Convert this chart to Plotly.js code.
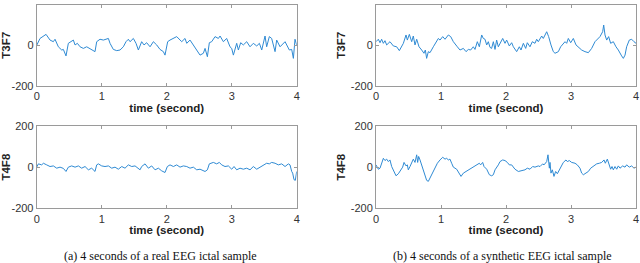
<!DOCTYPE html>
<html>
<head>
<meta charset="utf-8">
<script src="https://cdn.plot.ly/plotly-3.0.1.min.js"></script>
<style>html,body{margin:0;padding:0;background:#fff;}#chart{width:640px;height:263px;}</style>
</head>
<body>
<div id="chart"></div>
<script>
// ---- Data ----
const realT3F7_t = [0,0.051,0.144,0.205,0.256,0.282,0.333,0.385,0.410,0.451,0.487,0.538,0.564,0.590,0.626,0.667,0.718,0.769,0.846,0.897,0.923,0.974,1.026,1.103,1.128,1.179,1.231,1.282,1.333,1.374,1.410,1.436,1.487,1.528,1.564,1.615,1.651,1.692,1.744,1.795,1.846,1.897,1.949,1.974,2.015,2.051,2.154,2.205,2.231,2.282,2.308,2.359,2.410,2.462,2.513,2.564,2.590,2.626,2.656,2.692,2.744,2.795,2.821,2.872,2.923,2.974,3.000,3.026,3.077,3.103,3.138,3.179,3.231,3.282,3.333,3.385,3.426,3.462,3.513,3.538,3.579,3.615,3.667,3.692,3.744,3.821,3.846,3.887,3.923,3.949,3.974,4.000];
const realT3F7_v = [0,34,54,26,18,30,-7,-23,-20,-52,10,18,26,2,10,-7,-15,-7,-20,-31,18,30,26,34,10,-20,-26,-23,-7,18,30,18,34,10,-23,18,2,13,-7,18,2,-20,-31,-48,18,26,43,26,18,34,10,26,2,-23,-48,-39,-15,-56,13,18,43,34,46,18,34,-7,-15,-48,10,-23,13,2,18,-7,10,-3,10,-23,46,-7,43,34,-31,26,-7,18,2,-23,-20,-64,30,2];

const synT3F7_t = [0,0.036,0.062,0.087,0.113,0.138,0.164,0.215,0.267,0.318,0.359,0.395,0.421,0.462,0.482,0.513,0.549,0.574,0.600,0.626,0.662,0.703,0.738,0.759,0.779,0.805,0.831,0.882,0.923,0.959,0.985,1.026,1.062,1.113,1.149,1.190,1.251,1.292,1.344,1.385,1.421,1.456,1.497,1.523,1.559,1.590,1.626,1.651,1.677,1.703,1.728,1.754,1.779,1.805,1.831,1.856,1.882,1.918,1.949,1.985,2.010,2.051,2.087,2.113,2.154,2.164,2.205,2.231,2.267,2.303,2.328,2.369,2.405,2.446,2.472,2.497,2.549,2.574,2.626,2.656,2.692,2.728,2.754,2.805,2.841,2.908,2.933,2.959,2.995,3.036,3.077,3.113,3.164,3.215,3.267,3.318,3.369,3.446,3.487,3.503,3.523,3.549,3.579,3.610,3.651,3.692,3.728,3.779,3.805,3.831,3.856,3.897,3.933,3.969,4.000];
const synT3F7_v = [18,30,13,30,10,23,2,18,-3,-7,-26,-7,10,51,26,54,18,46,2,30,-7,-23,-39,-23,-64,-31,-36,-7,18,34,26,43,30,51,43,18,-7,-23,-15,-31,-20,-23,-7,-20,18,-7,51,34,30,2,18,-10,-15,18,-20,26,-7,18,34,10,26,-3,13,-7,-23,-31,-7,-23,10,-15,13,-7,18,10,30,18,46,34,67,43,2,-31,-39,-31,-7,18,10,34,13,34,2,-7,-23,-31,-36,-15,18,43,67,100,51,26,43,10,18,-7,-23,-52,-64,-48,-7,26,30,18,10];

const realT4F8_t = [0,0.026,0.077,0.103,0.154,0.205,0.256,0.308,0.359,0.410,0.451,0.487,0.538,0.590,0.641,0.692,0.744,0.795,0.846,0.897,0.923,0.949,1.000,1.051,1.103,1.154,1.205,1.256,1.308,1.359,1.410,1.462,1.513,1.564,1.590,1.615,1.667,1.718,1.769,1.821,1.872,1.923,1.974,2.010,2.051,2.103,2.154,2.205,2.256,2.308,2.359,2.410,2.462,2.513,2.590,2.626,2.656,2.718,2.769,2.810,2.846,2.897,2.949,3.000,3.036,3.077,3.128,3.179,3.231,3.282,3.333,3.385,3.436,3.487,3.538,3.579,3.615,3.667,3.718,3.769,3.821,3.872,3.897,3.923,3.938,3.959,3.979,4.000];
const realT4F8_v = [0,16,11,19,11,3,6,-5,0,-6,-21,0,6,0,6,-5,3,-13,-5,-21,11,16,6,3,6,-5,0,-10,3,-5,11,3,6,-5,-13,3,16,-5,6,-13,-5,-18,-26,3,11,3,11,0,6,3,-5,0,-13,-10,-21,-13,16,23,16,23,11,3,6,-10,3,-13,-5,-10,-5,-13,3,-10,0,6,19,16,23,19,11,16,3,16,11,-21,-29,-61,-64,-21];

const synT4F8_t = [0,0.036,0.062,0.087,0.113,0.138,0.164,0.190,0.215,0.241,0.277,0.308,0.344,0.379,0.410,0.431,0.462,0.482,0.497,0.523,0.549,0.574,0.600,0.626,0.641,0.656,0.677,0.692,0.728,0.754,0.779,0.805,0.831,0.872,0.908,0.944,0.985,1.026,1.062,1.087,1.113,1.138,1.164,1.190,1.241,1.282,1.308,1.344,1.385,1.421,1.472,1.523,1.559,1.590,1.610,1.641,1.662,1.703,1.744,1.779,1.805,1.831,1.882,1.908,1.949,1.985,2.021,2.051,2.087,2.138,2.190,2.241,2.292,2.328,2.369,2.410,2.446,2.497,2.523,2.564,2.585,2.626,2.646,2.667,2.677,2.692,2.713,2.738,2.764,2.790,2.831,2.856,2.882,2.923,2.944,2.974,3.010,3.062,3.097,3.138,3.164,3.190,3.231,3.267,3.303,3.344,3.395,3.436,3.472,3.508,3.528,3.559,3.579,3.610,3.631,3.651,3.677,3.703,3.728,3.754,3.795,3.831,3.856,3.897,3.933,3.969,4.000];
const synT4F8_v = [11,-10,-5,23,43,32,39,27,35,3,-21,-42,-32,-13,0,23,6,11,-13,3,19,39,23,60,23,52,35,19,-13,-45,-64,-69,-53,-29,0,19,35,48,39,43,35,39,19,0,-10,-29,-45,-29,-21,-13,-5,3,11,19,11,23,3,-10,-37,-42,-37,-13,11,27,35,32,23,11,11,-10,-21,-16,-13,-5,-10,3,0,6,3,16,11,27,60,-5,23,-29,-13,-45,-21,-32,-5,11,23,35,27,32,23,19,11,-5,-29,-37,-29,-21,-5,3,16,19,23,35,19,39,19,-10,3,-13,3,-10,6,-5,6,0,11,0,6,-5,0];

const xTicks = [0,1,2,3,4];
const yTickVals = [-200,0,200];
const yTickText = ['-200','0','200'];
const xTitle = 'time (second)';
const channelTop = 'T3F7';
const channelBottom = 'T4F8';
const captionA = '(a) 4 seconds of a real EEG ictal sample';
const captionB = '(b) 4 seconds of a synthetic EEG ictal sample';

// ---- Styling ----
const lineColor = '#2f8ad3';
const axisColor = '#9a9a9a';
const tickFont = {family: 'Liberation Sans, Arial, sans-serif', size: 11, color: '#333'};
const titleFont = {family: 'Liberation Sans, Arial, sans-serif', size: 11.5, color: '#222', weight: 'bold'};

function trace(t, v, xa, ya) {
  return {x: t, y: v, xaxis: xa, yaxis: ya, type: 'scatter', mode: 'lines',
          line: {color: lineColor, width: 1}, hoverinfo: 'skip'};
}

const data = [
  trace(realT3F7_t, realT3F7_v, 'x', 'y'),
  trace(synT3F7_t, synT3F7_v, 'x2', 'y2'),
  trace(realT4F8_t, realT4F8_v, 'x3', 'y3'),
  trace(synT4F8_t, synT4F8_v, 'x4', 'y4')
];

function xax(domain, anchor) {
  return {domain: domain, anchor: anchor, range: [0, 4], tickvals: xTicks,
    ticks: 'inside', ticklen: 3, tickcolor: axisColor, showline: true, linecolor: axisColor,
    linewidth: 1, mirror: 'ticks', showgrid: false, zeroline: false, tickfont: tickFont,
    title: {text: xTitle, font: titleFont, standoff: 2}, automargin: false};
}
function yax(domain, anchor, label) {
  return {domain: domain, anchor: anchor, range: [-200, 200], tickvals: yTickVals, ticktext: yTickText,
    ticks: 'inside', ticklen: 3, tickcolor: axisColor, showline: true, linecolor: axisColor,
    linewidth: 1, mirror: 'ticks', showgrid: false, zeroline: false, tickfont: tickFont,
    title: {text: label, font: titleFont, standoff: 2}, automargin: false};
}

const xL = [36.7/640, 296.7/640];
const xR = [376/640, 636/640];
const yT = [1 - 86/263, 1 - 4.7/263];
const yB = [1 - 208.3/263, 1 - 126/263];

const layout = {
  width: 640, height: 263,
  margin: {l: 0, r: 0, t: 0, b: 0},
  paper_bgcolor: '#fff', plot_bgcolor: '#fff',
  showlegend: false,
  xaxis: xax(xL, 'y'), yaxis: yax(yT, 'x', channelTop),
  xaxis2: xax(xR, 'y2'), yaxis2: yax(yT, 'x2', channelTop),
  xaxis3: xax(xL, 'y3'), yaxis3: yax(yB, 'x3', channelBottom),
  xaxis4: xax(xR, 'y4'), yaxis4: yax(yB, 'x4', channelBottom),
  annotations: [
    {text: captionA, xref: 'paper', yref: 'paper', x: 160.5/640, y: 1 - 255.7/263,
     xanchor: 'center', yanchor: 'middle', showarrow: false,
     font: {family: 'Liberation Serif, Times New Roman, serif', size: 12, color: '#111'}},
    {text: captionB, xref: 'paper', yref: 'paper', x: 502/640, y: 1 - 255.7/263,
     xanchor: 'center', yanchor: 'middle', showarrow: false,
     font: {family: 'Liberation Serif, Times New Roman, serif', size: 12, color: '#111'}}
  ]
};

Plotly.newPlot('chart', data, layout, {staticPlot: true, displayModeBar: false});
</script>
</body>
</html>
